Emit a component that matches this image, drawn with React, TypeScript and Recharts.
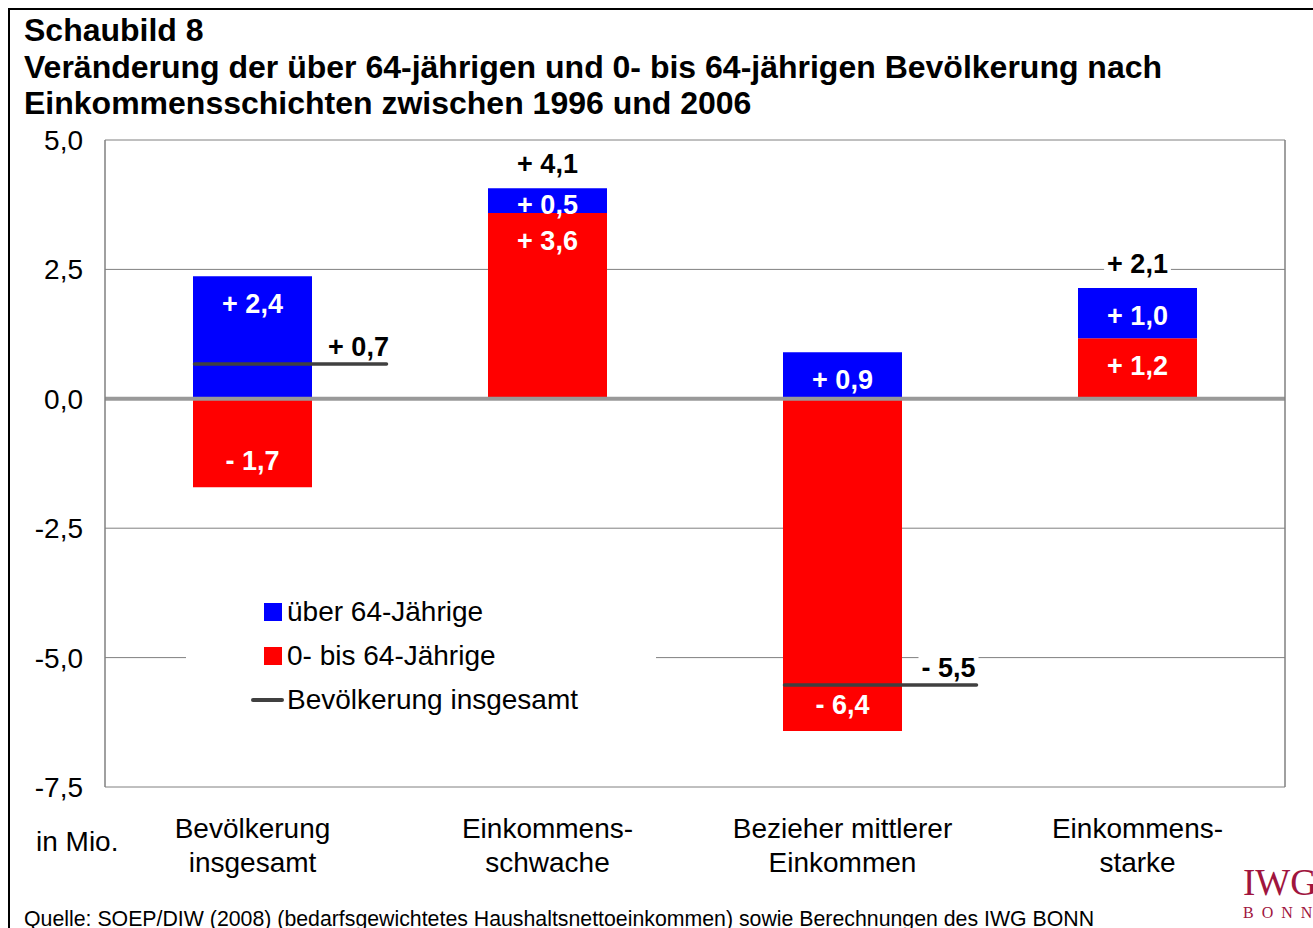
import React from 'react';
import {
  Bar,
  CartesianGrid,
  ComposedChart,
  LabelList,
  Legend,
  Line,
  ReferenceLine,
  XAxis,
  YAxis,
} from 'recharts';

const kategorien = [
  'Bevölkerung insgesamt',
  'Einkommensschwache',
  'Bezieher mittlerer Einkommen',
  'Einkommensstarke',
];
const tickZeilen = [
  ['Bevölkerung', 'insgesamt'],
  ['Einkommens-', 'schwache'],
  ['Bezieher mittlerer', 'Einkommen'],
  ['Einkommens-', 'starke'],
];
const ueber64 = [2.37, 0.48, 0.9, 0.97];
const unter64 = [-1.71, 3.59, -6.42, 1.17];
const gesamt = [0.67, 4.07, -5.53, 2.14];
const yTicks = [5, 2.5, 0, -2.5, -5, -7.5];

const serien = [
  { key: 'ueber', name: 'über 64-Jährige', color: '#0000ff' },
  { key: 'unter', name: '0- bis 64-Jährige', color: '#ff0000' },
  { key: 'gesamt', name: 'Bevölkerung insgesamt', color: '#404040' },
];

const data = kategorien.map((k, i) => ({
  kategorie: k,
  ueber: ueber64[i],
  unter: unter64[i],
  gesamt: gesamt[i],
}));

const FONT = '"Liberation Sans", Arial, Helvetica, sans-serif';

const komma = (v: number) => v.toFixed(1).replace('.', ',');
const mitVorzeichen = (v: number) => (v < 0 ? '- ' : '+ ') + komma(Math.abs(v));

// grobe Breite fuer Arial fett, nur fuer den weissen Hintergrund
const textBreite = (s: string, size: number) => {
  let w = 0;
  for (const c of s) {
    if (c === '+') w += 0.584;
    else if (c === '-') w += 0.333;
    else if (c === ' ' || c === ',') w += 0.278;
    else w += 0.556;
  }
  return w * size;
};

function BarWert(props: any) {
  const { x, y, width, height, index, werte } = props;
  const v = werte[index];
  const oben = Math.min(y, y + height);
  const unten = Math.max(y, y + height);
  const h = unten - oben;
  const abstand = Math.min(27, h / 2 + 4);
  const cy = v >= 0 ? oben + abstand : unten - abstand;
  return (
    <text
      x={x + width / 2}
      y={cy}
      dy="0.36em"
      textAnchor="middle"
      fill="#fff"
      fontWeight="bold"
      fontSize={27}
      fontFamily={FONT}
    >
      {mitVorzeichen(v)}
    </text>
  );
}

function GesamtMarke(props: any) {
  const { cx, cy, index } = props;
  if (cx == null || cy == null) return null;
  const text = mitVorzeichen(gesamt[index]);
  const gemischt = ueber64[index] * unter64[index] < 0;
  const lx = gemischt ? cx + 106 : cx;
  const ly = gemischt ? cy - 18 : cy - 25;
  const w = textBreite(text, 27) + 6;
  return (
    <g>
      {gemischt && (
        <line
          x1={cx - 58}
          x2={cx + 134}
          y1={cy}
          y2={cy}
          stroke="#404040"
          strokeWidth={3.5}
          strokeLinecap="round"
        />
      )}
      <rect x={lx - w / 2} y={ly - 14} width={w} height={28} fill="#fff" />
      <text
        x={lx}
        y={ly}
        dy="0.36em"
        textAnchor="middle"
        fill="#000"
        fontWeight="bold"
        fontSize={27}
        fontFamily={FONT}
      >
        {text}
      </text>
    </g>
  );
}

function KategorieTick(props: any) {
  const { x, y, index } = props;
  const zeilen = tickZeilen[index] || [];
  return (
    <text x={x} y={y} textAnchor="middle" fontSize={28} fontFamily={FONT} fill="#000">
      {zeilen.map((z, i) => (
        <tspan key={i} x={x} y={y + 51 + i * 34}>
          {z}
        </tspan>
      ))}
    </text>
  );
}

function Legende() {
  const reihen = [serien[0], serien[1], serien[2]];
  return (
    <div style={{ fontFamily: FONT, fontSize: 28, color: '#000' }}>
      {reihen.map((s) => (
        <div
          key={s.key}
          style={{ position: 'relative', height: 44, display: 'flex', alignItems: 'center' }}
        >
          {s.key === 'gesamt' ? (
            <span
              style={{
                position: 'absolute',
                left: 65,
                width: 33,
                height: 4,
                borderRadius: 2,
                background: s.color,
              }}
            />
          ) : (
            <span
              style={{
                position: 'absolute',
                left: 78,
                width: 18,
                height: 18,
                background: s.color,
              }}
            />
          )}
          <span style={{ position: 'absolute', left: 101, whiteSpace: 'nowrap' }}>{s.name}</span>
        </div>
      ))}
    </div>
  );
}

export default function App() {
  return (
    <div
      style={{
        position: 'fixed',
        left: 8,
        top: 8,
        width: 1305,
        height: 920,
        borderLeft: '2px solid #000',
        borderTop: '2px solid #000',
        overflow: 'hidden',
        background: '#fff',
        fontFamily: FONT,
      }}
    >
      <div
        style={{
          position: 'absolute',
          left: 14,
          top: 2,
          fontSize: 32,
          fontWeight: 'bold',
          lineHeight: '36.5px',
          color: '#000',
          whiteSpace: 'nowrap',
        }}
      >
        <div>Schaubild 8</div>
        <div>Veränderung der über 64-jährigen und 0- bis 64-jährigen Bevölkerung nach</div>
        <div>Einkommensschichten zwischen 1996 und 2006</div>
      </div>

      <div style={{ position: 'absolute', left: 0, top: 0 }}>
        <ComposedChart
          width={1295}
          height={910}
          data={data}
          stackOffset="sign"
          margin={{ top: 130, right: 19, bottom: 23, left: 0 }}
        >
          <CartesianGrid vertical={false} stroke="#808080" strokeWidth={1} />
          <XAxis
            dataKey="kategorie"
            axisLine={false}
            tickLine={false}
            tickSize={0}
            tickMargin={0}
            height={110}
            interval={0}
            tick={<KategorieTick />}
          />
          <YAxis
            domain={[-7.5, 5]}
            ticks={yTicks}
            width={95}
            axisLine={{ stroke: '#808080', strokeWidth: 1.5 }}
            tickLine={false}
            tickSize={0}
            tickMargin={22}
            tickFormatter={(v: number) => komma(v)}
            tick={{ fill: '#000', fontSize: 28, fontFamily: FONT }}
          />
          <YAxis
            yAxisId="rand"
            orientation="right"
            domain={[-7.5, 5]}
            ticks={yTicks}
            width={1}
            axisLine={{ stroke: '#808080', strokeWidth: 1.5 }}
            tick={false}
            tickLine={false}
          />
          <Bar
            dataKey="unter"
            name={serien[1].name}
            stackId="a"
            fill={serien[1].color}
            barSize={119}
            isAnimationActive={false}
          >
            <LabelList dataKey="unter" content={(p: any) => <BarWert {...p} werte={unter64} />} />
          </Bar>
          <Bar
            dataKey="ueber"
            name={serien[0].name}
            stackId="a"
            fill={serien[0].color}
            barSize={119}
            isAnimationActive={false}
          >
            <LabelList dataKey="ueber" content={(p: any) => <BarWert {...p} werte={ueber64} />} />
          </Bar>
          <ReferenceLine y={0} stroke="#999999" strokeWidth={4} />
          <Line
            dataKey="gesamt"
            name={serien[2].name}
            stroke="none"
            legendType="none"
            activeDot={false}
            isAnimationActive={false}
            dot={(p: any) => <GesamtMarke key={p.index} {...p} />}
          />
          <Legend
            layout="vertical"
            align="center"
            verticalAlign="middle"
            content={() => <Legende />}
            wrapperStyle={{
              left: 176,
              top: 580,
              width: 470,
              height: 134,
              background: '#fff',
            }}
          />
        </ComposedChart>
      </div>

      <div
        style={{
          position: 'absolute',
          left: 26,
          top: 816,
          fontSize: 28,
          lineHeight: '32px',
          color: '#000',
        }}
      >
        in Mio.
      </div>

      <div
        style={{
          position: 'absolute',
          left: 14,
          top: 897,
          fontSize: 21.3,
          lineHeight: '24px',
          color: '#000',
          whiteSpace: 'nowrap',
        }}
      >
        Quelle: SOEP/DIW (2008) (bedarfsgewichtetes Haushaltsnettoeinkommen) sowie Berechnungen des IWG BONN
      </div>

      <div
        style={{
          position: 'absolute',
          left: 1233,
          top: 855,
          fontFamily: '"Liberation Serif", "Times New Roman", serif',
          color: '#a0153e',
          whiteSpace: 'nowrap',
        }}
      >
        <div style={{ fontSize: 37, lineHeight: '36px' }}>IWG</div>
        <div style={{ fontSize: 16, lineHeight: '16px', letterSpacing: 8, marginTop: 4 }}>BONN</div>
      </div>
    </div>
  );
}
